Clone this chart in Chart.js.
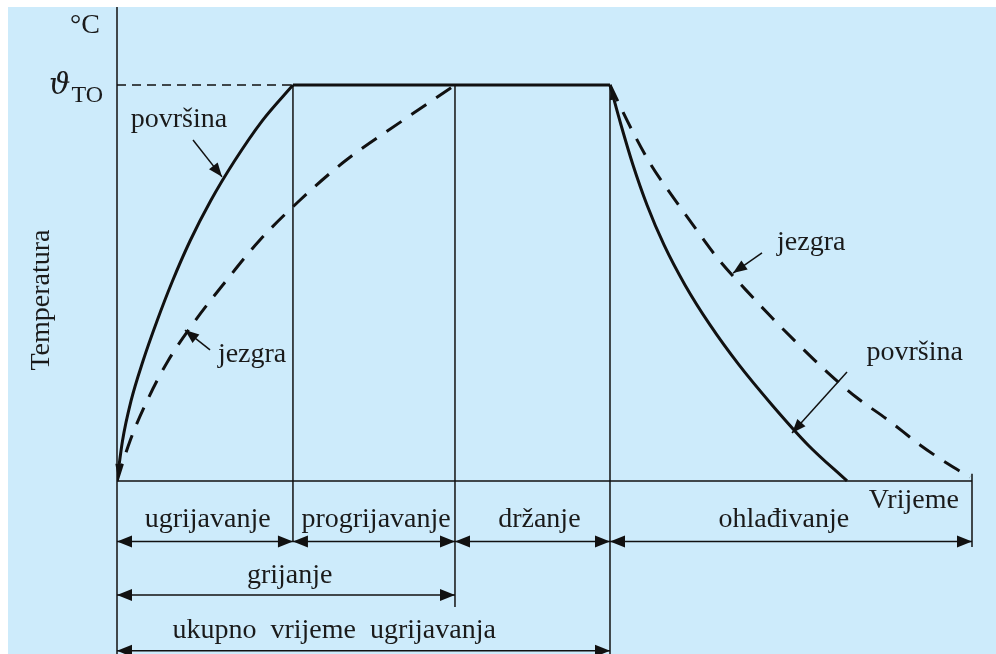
<!DOCTYPE html>
<html>
<head>
<meta charset="utf-8">
<script src="https://cdn.jsdelivr.net/npm/chart.js@4/dist/chart.umd.min.js"></script>
<style>
  html, body { margin: 0; padding: 0; background: #fff; }
  #wrap { position: absolute; left: 8px; top: 7px; width: 988px; height: 647px; background: #cdebfb; }
</style>
</head>
<body>
<div id="wrap"><canvas id="myChart"></canvas></div>
<script>
// vrijeme (0..100) i temperatura (0..100 = ϑTO), očitano sa slike
const surfaceHeatT = [0, 0.64, 1.64, 3.04, 4.68, 6.49, 8.54, 10.94, 13.74, 16.96, 20.58];
const surfaceHeatY = [0, 10.1, 20.2, 30.3, 40.4, 50.5, 60.6, 70.7, 80.8, 90.9, 100];

const coreHeatT = [0, 1.52, 3.51, 5.96, 9.12, 12.75, 16.61, 21.29, 26.67, 33.33, 39.53];
const coreHeatY = [0, 10.1, 20.2, 30.3, 40.4, 50.5, 60.6, 70.7, 80.8, 90.9, 100];

const holdT = [20.58, 57.66];
const holdY = [100, 100];

const surfaceCoolT = [57.66, 58.95, 60.35, 61.99, 63.98, 66.43, 69.36, 72.75, 76.61, 80.82, 85.38];
const surfaceCoolY = [100, 89.9, 79.8, 69.7, 59.6, 49.5, 39.4, 29.3, 19.2, 9.1, 0];

const coreCoolT = [57.66, 60.23, 62.46, 65.03, 67.72, 70.41, 73.57, 76.61, 79.88, 83.16, 86.43, 90.18, 93.92, 97.78, 99.77];
const coreCoolY = [100, 88.6, 79.8, 71.7, 63.6, 55.8, 48.2, 41.2, 34.1, 27.3, 21.2, 15.4, 9.1, 3.5, 1.0];

// faze
const phaseBounds = [0, 20.58, 39.53, 57.66, 100];
const phaseLabels = ['ugrijavanje', 'progrijavanje', 'držanje', 'ohlađivanje'];
const spanLabels = ['grijanje', 'ukupno  vrijeme  ugrijavanja'];
const spanEnds = [39.53, 57.66];

function pts(t, v) {
    return t.map((x, i) => ({ x: x, y: v[i] }));
}

const ink = '#111';
const font = "28px 'Liberation Serif', 'Times New Roman', serif";

function line(ctx, x1, y1, x2, y2) {
    ctx.beginPath();
    ctx.moveTo(x1, y1);
    ctx.lineTo(x2, y2);
    ctx.stroke();
}

function head(ctx, x1, y1, x2, y2, len, half) {
    // vrh strelice u (x2, y2)
    const a = Math.atan2(y2 - y1, x2 - x1);
    ctx.beginPath();
    ctx.moveTo(x2, y2);
    ctx.lineTo(x2 - len * Math.cos(a) + half * Math.sin(a), y2 - len * Math.sin(a) - half * Math.cos(a));
    ctx.lineTo(x2 - len * Math.cos(a) - half * Math.sin(a), y2 - len * Math.sin(a) + half * Math.cos(a));
    ctx.closePath();
    ctx.fill();
}

function dimArrow(ctx, x1, x2, y) {
    line(ctx, x1, y, x2, y);
    head(ctx, x2, y, x1, y, 15, 6);
    head(ctx, x1, y, x2, y, 15, 6);
}

const annot = {
    id: 'annot',
    beforeDatasetsDraw(chart) {
        const ctx = chart.ctx;
        const sx = chart.scales.x, sy = chart.scales.y;
        const px = v => sx.getPixelForValue(v);
        const py = v => sy.getPixelForValue(v);
        ctx.save();
        ctx.strokeStyle = ink;
        ctx.fillStyle = ink;
        ctx.lineWidth = 1.5;

        // osi
        line(ctx, px(0), py(sy.max), px(0), py(sy.min));
        line(ctx, px(0), py(0), px(100), py(0));
        line(ctx, px(100), py(1.8), px(100), py(-16.7));

        // okomite granice faza
        line(ctx, px(phaseBounds[1]), py(100), px(phaseBounds[1]), py(-15.3));
        line(ctx, px(phaseBounds[2]), py(100), px(phaseBounds[2]), py(-31.8));
        line(ctx, px(phaseBounds[3]), py(100), px(phaseBounds[3]), py(sy.min));

        // isprekidana razina ϑTO
        ctx.setLineDash([9, 6]);
        line(ctx, px(0), py(100), px(phaseBounds[1]), py(100));
        ctx.setLineDash([]);
        ctx.restore();
    },
    afterDatasetsDraw(chart) {
        const ctx = chart.ctx;
        const sx = chart.scales.x, sy = chart.scales.y;
        const px = v => sx.getPixelForValue(v);
        const py = v => sy.getPixelForValue(v);
        ctx.save();
        ctx.strokeStyle = ink;
        ctx.fillStyle = ink;
        ctx.lineWidth = 1.5;

        // kotne strelice
        for (let i = 0; i < phaseLabels.length; i++) {
            dimArrow(ctx, px(phaseBounds[i]), px(phaseBounds[i + 1]), py(-15.3));
        }
        dimArrow(ctx, px(0), px(spanEnds[0]), py(-28.8));
        dimArrow(ctx, px(0), px(spanEnds[1]), py(-42.9));

        // strelice oznaka
        const arrows = [
            [8.89, 86.1, 12.28, 76.8],
            [10.88, 33.1, 7.95, 38.1],
            [75.44, 57.6, 72.05, 52.5],
            [85.38, 27.5, 78.95, 12.1]
        ];
        arrows.forEach(a => {
            line(ctx, px(a[0]), py(a[1]), px(a[2]), py(a[3]));
            head(ctx, px(a[0]), py(a[1]), px(a[2]), py(a[3]), 14, 5.5);
        });
        // mali vrhovi na krajevima krivulje površine
        head(ctx, px(0.3), py(8), px(0.05), py(1.5), 11, 3);
        head(ctx, px(58.1), py(95), px(57.75), py(99), 11, 3);

        // tekst
        ctx.fillStyle = '#1a1a1a';
        ctx.font = font;
        ctx.textBaseline = 'alphabetic';
        ctx.textAlign = 'center';
        const labelX = [10.6, 30.3, 49.4, 78.0];
        phaseLabels.forEach((s, i) => ctx.fillText(s, px(labelX[i]), py(-11.6)));
        ctx.fillText(spanLabels[0], px(20.2), py(-25.8));
        ctx.fillText(spanLabels[1], px(25.4), py(-39.6));

        ctx.fillText('površina', px(7.25), py(89.4));
        ctx.fillText('jezgra', px(15.8), py(30.1));
        ctx.fillText('jezgra', px(81.2), py(58.3));
        ctx.fillText('površina', px(93.3), py(30.6));
        ctx.fillText('Vrijeme', px(93.2), py(-6.8));

        ctx.textAlign = 'right';
        ctx.fillText('°C', px(-1.99), py(113.1));
        ctx.font = "24px 'Liberation Serif', serif";
        ctx.fillText('TO', px(-1.64), py(95.7));
        const toW = ctx.measureText('TO').width;
        ctx.font = "italic 30px 'DejaVu Serif', 'Liberation Serif', serif";
        ctx.fillText('ϑ', px(-1.64) - toW - 1, py(97.7));

        ctx.font = font;
        ctx.textAlign = 'center';
        ctx.translate(px(-7.95), py(45.7));
        ctx.rotate(-Math.PI / 2);
        ctx.fillText('Temperatura', 0, 0);
        ctx.restore();
    }
};

const solid = { borderColor: ink, borderWidth: 3, pointRadius: 0, fill: false, cubicInterpolationMode: 'monotone' };
const dashed = Object.assign({}, solid, { borderDash: [18, 12] });

new Chart(document.getElementById('myChart'), {
    type: 'line',
    data: {
        datasets: [
            Object.assign({ label: 'površina', data: pts(surfaceHeatT, surfaceHeatY) }, solid),
            Object.assign({ label: 'držanje', data: pts(holdT, holdY) }, solid),
            Object.assign({ label: 'površina', data: pts(surfaceCoolT, surfaceCoolY) }, solid),
            Object.assign({ label: 'jezgra', data: pts(coreHeatT, coreHeatY) }, dashed),
            Object.assign({ label: 'jezgra', data: pts(coreCoolT, coreCoolY) }, dashed)
        ]
    },
    options: {
        responsive: true,
        maintainAspectRatio: false,
        animation: false,
        layout: { padding: { left: 109, right: 24, top: 0, bottom: 0 } },
        plugins: { legend: { display: false }, tooltip: { enabled: false } },
        scales: {
            x: { type: 'linear', min: 0, max: 100, display: false },
            y: { type: 'linear', min: -43.7, max: 119.7, display: false }
        }
    },
    plugins: [annot]
});
</script>
</body>
</html>
